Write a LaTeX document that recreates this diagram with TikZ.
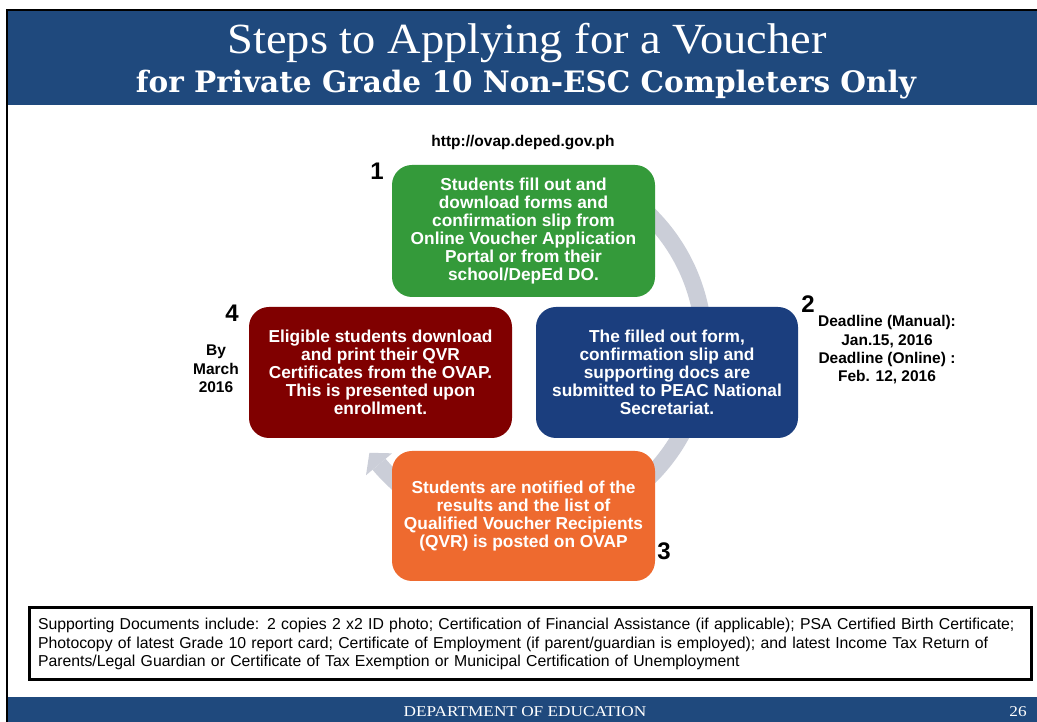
\documentclass[tikz,border=0pt]{standalone}
\usepackage{fontspec}
\setmainfont{Liberation Sans}
\newfontfamily\titlefont[FakeStretch=1.08]{Liberation Serif}
\newfontfamily\subfont{DejaVu Serif}
\newfontfamily\footfont[FakeStretch=1.15]{Liberation Serif}
\usetikzlibrary{calc}
\definecolor{hdrblue}{RGB}{31,73,125}
\definecolor{stepgreen}{RGB}{52,154,58}
\definecolor{stepblue}{RGB}{27,62,126}
\definecolor{stepred}{RGB}{128,0,0}
\definecolor{steporange}{RGB}{238,106,47}
\definecolor{arcgrey}{RGB}{203,206,216}
\tikzset{
  stepbox/.style={rectangle, rounded corners=20pt, minimum width=263pt, minimum height=131pt,
    align=center, text=white, inner sep=0pt, font=\bfseries\fontsize{17.3}{18}\selectfont},
  numlabel/.style={font=\bfseries\fontsize{24}{24}\selectfont, inner sep=0pt},
  sidelabel/.style={font=\bfseries\fontsize{15.5}{18.3}\selectfont, align=center, inner sep=0pt},
  docbox/.style={draw=black, line width=3pt, minimum width=1002pt, minimum height=72pt,
    text width=984pt, inner xsep=9pt, inner ysep=0pt, align=left, font=\fontsize{15.8}{18.5}\selectfont},
  foottext/.style={text=white, font=\footfont\fontsize{15}{15}\selectfont, inner sep=0pt}
}
\begin{document}
\begin{tikzpicture}[x=1pt,y=1pt]
\useasboundingbox (0,0) rectangle (1037,722);
\fill[white] (0,0) rectangle (1037,722);
% header and footer bands
\fill[hdrblue] (8,617) rectangle (1037,711);
\fill[hdrblue] (8,0) rectangle (1037,25);
\draw[line width=2.5pt] (7,0) -- (7,712) -- (1037,712);
\node[text=white, font=\titlefont\fontsize{43}{43}\selectfont, anchor=base, inner sep=0pt] (title) at (527,668) {Steps to Applying for a Voucher};
\node[text=white, font=\subfont\bfseries\fontsize{29.5}{29.5}\selectfont, anchor=base, inner sep=0pt] (subtitle) at (526,629) {for Private Grade 10 Non-ESC Completers Only};
% cycle arrow
\coordinate (cyc) at (520,376);
\draw[arcgrey, line width=17pt] ($(cyc)+(60:184)$) arc[start angle=60, end angle=-140, radius=184pt];
\fill[arcgrey] ($(cyc)+(-140:201)$) -- ($(cyc)+(-140:184)+(130:15)$) -- ($(cyc)+(-140:167)$) -- cycle;
% step boxes
\node[stepbox, fill=stepgreen, minimum height=132pt] (s1) at (523.5,491) {Students fill out and\\download forms and\\confirmation slip from\\Online Voucher Application\\Portal or from their\\school/DepEd DO.};
\node[stepbox, fill=stepblue, minimum width=262pt] (s2) at (667,349.5) {The filled out form,\\confirmation slip and\\supporting docs are\\submitted to PEAC National\\Secretariat.};
\node[stepbox, fill=steporange, minimum height=130pt] (s3) at (523.5,206) {Students are notified of the\\results and the list of\\Qualified Voucher Recipients\\(QVR) is posted on OVAP};
\node[stepbox, fill=stepred] (s4) at (380.5,349.5) {Eligible students download\\and print their QVR\\Certificates from the OVAP.\\This is presented upon\\enrollment.};
% numbers and side labels
\node[numlabel] (n1) at (377,551) {1};
\node[numlabel] (n2) at (808,418) {2};
\node[numlabel] (n3) at (664,171) {3};
\node[numlabel] (n4) at (232,409) {4};
\node[sidelabel] (url) at (523,579) {http://ovap.deped.gov.ph};
\node[sidelabel] (dl) at (887,372) {Deadline (Manual):\\Jan.15, 2016\\Deadline (Online) :\\Feb. 12, 2016};
\node[sidelabel] (bym) at (216,353) {By\\March\\2016};
% supporting documents
\node[docbox] (docs) at (530,78) {Supporting Documents include: 2 copies 2 x2 ID photo; Certification of Financial Assistance (if applicable); PSA Certified Birth Certificate;\\Photocopy of latest Grade 10 report card; Certificate of Employment (if parent/guardian is employed); and latest Income Tax Return of\\Parents/Legal Guardian or Certificate of Tax Exemption or Municipal Certification of Unemployment};
% footer
\node[foottext] (foot) at (525,10) {DEPARTMENT OF EDUCATION};
\node[foottext] (page) at (1018,10) {26};
\end{tikzpicture}
\end{document}
